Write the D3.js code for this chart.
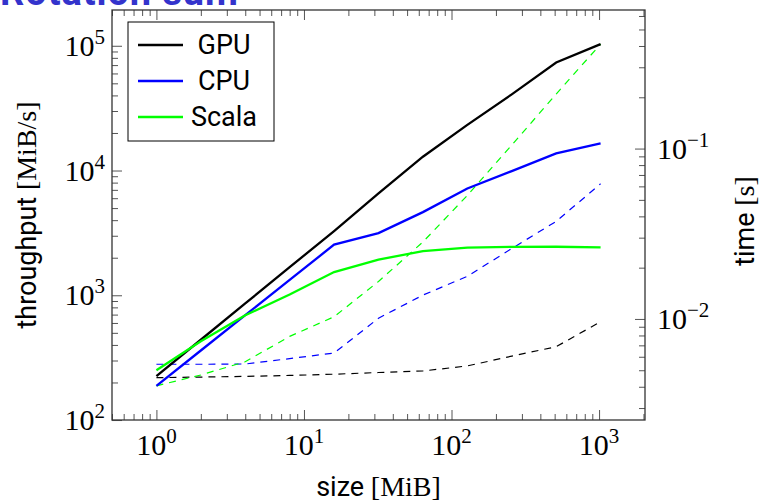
<!DOCTYPE html>
<html>
<head>
<meta charset="utf-8">
<script src="https://cdn.jsdelivr.net/npm/d3@7"></script>
<style>
  body { margin: 0; background: #fff; }
  svg { display: block; }
  .tick line { stroke: #555; stroke-width: 1; }
</style>
</head>
<body>
<svg id="chart" width="765" height="502"></svg>
<script>
// transfer sizes in MiB
const sizes = [1, 2, 4, 8, 16, 32, 64, 128, 256, 512, 1024];

// throughput [MiB/s], solid lines, left axis
const gpuThroughput = [225, 440, 860, 1680, 3270, 6550, 12900, 23200, 40800, 73500, 103000];
const cpuThroughput = [188, 361, 693, 1330, 2545, 3150, 4640, 7180, 9890, 13700, 16500];
const scalaThroughput = [251, 428, 692, 1013, 1535, 1930, 2260, 2410, 2443, 2450, 2420];

// time [s], dashed lines, right axis
const gpuTime = [0.00452, 0.00456, 0.0046, 0.00466, 0.00474, 0.00485, 0.00495, 0.0053, 0.00605, 0.00687, 0.00964];
const cpuTime = [0.00542, 0.00542, 0.00544, 0.00585, 0.00631, 0.0101, 0.0138, 0.0178, 0.0259, 0.0374, 0.0621];
const scalaTime = [0.00405, 0.00469, 0.00561, 0.0079, 0.0103, 0.0166, 0.0283, 0.0531, 0.1048, 0.209, 0.41];

const seriesNames = ["GPU", "CPU", "Scala"];
const seriesColors = ["#000000", "#0000ff", "#00ff00"];

const svg = d3.select("#chart");
const plotLeft = 112, plotRight = 645, plotTop = 10, plotBottom = 420;
const serif = "'Liberation Serif', 'DejaVu Serif', serif";
const sans = "Roboto, 'Noto Sans', sans-serif";

// pgfplots style: enlarge log limits by 10% on each side
function enlarge(ext) {
    let la = Math.log10(ext[0]), lb = Math.log10(ext[1]);
    let pad = (lb - la) * 0.1;
    return [Math.pow(10, la - pad), Math.pow(10, lb + pad)];
}

function logTicks(domain) {
    let major = [], minor = [];
    for (let k = -5; k <= 7; k++) {
        for (let m = 1; m < 10; m++) {
            let v = m * Math.pow(10, k);
            if (v >= domain[0] * 0.995 && v <= domain[1] * 1.005) (m === 1 ? major : minor).push(v);
        }
    }
    return { major, minor };
}

let x = d3.scaleLog().domain(enlarge(d3.extent(sizes))).range([plotLeft, plotRight]);
let yL = d3.scaleLog()
    .domain(enlarge(d3.extent(gpuThroughput.concat(cpuThroughput, scalaThroughput))))
    .range([plotBottom, plotTop]);
let yR = d3.scaleLog()
    .domain(enlarge(d3.extent(gpuTime.concat(cpuTime, scalaTime))))
    .range([plotBottom, plotTop]);

let xt = logTicks(x.domain());
let ylt = logTicks(yL.domain());
let yrt = logTicks(yR.domain());

// ticks, pointing inwards
function drawAxis(axisFn, scale, ticks, transform) {
    [[ticks.major, 10], [ticks.minor, 6]].forEach(([vals, len]) => {
        svg.append("g")
            .attr("transform", transform)
            .call(axisFn(scale).tickValues(vals).tickSizeInner(-len).tickSizeOuter(0).tickFormat(""))
            .call(g => g.select(".domain").remove());
    });
}
drawAxis(d3.axisBottom, x, xt, `translate(0,${plotBottom})`);
drawAxis(d3.axisTop, x, xt, `translate(0,${plotTop})`);
drawAxis(d3.axisLeft, yL, ylt, `translate(${plotLeft},0)`);
drawAxis(d3.axisRight, yR, yrt, `translate(${plotRight},0)`);

// 10^k labels
function powLabels(vals, px, py, anchor) {
    svg.append("g").selectAll("text").data(vals).join("text")
        .attr("x", px).attr("y", py)
        .attr("text-anchor", anchor)
        .attr("font-family", serif).attr("font-size", 30).attr("fill", "#000")
        .each(function(d) {
            let e = Math.round(Math.log10(d));
            let t = d3.select(this);
            t.append("tspan").text("10");
            t.append("tspan").attr("dy", -12).attr("font-size", 21).text(String(e).replace("-", "\u2212"));
        });
}
powLabels(xt.major, d => x(d), plotBottom + 35, "middle");
powLabels(ylt.major, plotLeft - 7, d => yL(d) + 10, "end");
powLabels(yrt.major, plotRight + 12, d => yR(d) + 10, "start");

// frame
svg.append("rect")
    .attr("x", plotLeft).attr("y", plotTop)
    .attr("width", plotRight - plotLeft).attr("height", plotBottom - plotTop)
    .attr("fill", "none").attr("stroke", "#333").attr("stroke-width", 1.3);

// lines
let throughputs = [gpuThroughput, cpuThroughput, scalaThroughput];
let times = [gpuTime, cpuTime, scalaTime];
let lineL = d3.line().x((d, i) => x(sizes[i])).y(d => yL(d));
let lineR = d3.line().x((d, i) => x(sizes[i])).y(d => yR(d));

times.forEach((s, i) => {
    svg.append("path").datum(s)
        .attr("d", lineR)
        .attr("fill", "none")
        .attr("stroke", seriesColors[i])
        .attr("stroke-width", 1.2)
        .attr("stroke-dasharray", "7,6");
});
throughputs.forEach((s, i) => {
    svg.append("path").datum(s)
        .attr("d", lineL)
        .attr("fill", "none")
        .attr("stroke", seriesColors[i])
        .attr("stroke-width", 2.3);
});

// legend
let legend = svg.append("g");
legend.append("rect")
    .attr("x", 128).attr("y", 22).attr("width", 146).attr("height", 119)
    .attr("fill", "#fff").attr("stroke", "#000").attr("stroke-width", 1);
seriesNames.forEach((name, i) => {
    let ly = 45 + i * 36;
    legend.append("line")
        .attr("x1", 138).attr("x2", 183).attr("y1", ly).attr("y2", ly)
        .attr("stroke", seriesColors[i]).attr("stroke-width", 2.3);
    legend.append("text")
        .attr("x", 224).attr("y", ly + 9)
        .attr("text-anchor", "middle")
        .attr("font-family", sans).attr("font-size", 27)
        .text(name);
});

// axis titles
let xLabel = svg.append("text")
    .attr("x", (plotLeft + plotRight) / 2).attr("y", 496)
    .attr("text-anchor", "middle").attr("font-size", 27);
xLabel.append("tspan").attr("font-family", sans).text("size ");
xLabel.append("tspan").attr("font-family", serif).attr("font-size", 28).text("[MiB]");

let yLabel = svg.append("text")
    .attr("transform", `translate(36,${(plotTop + plotBottom) / 2}) rotate(-90)`)
    .attr("text-anchor", "middle").attr("font-size", 27);
yLabel.append("tspan").attr("font-family", sans).text("throughput ");
yLabel.append("tspan").attr("font-family", serif).attr("font-size", 28).text("[MiB/s]");

let rLabel = svg.append("text")
    .attr("transform", `translate(754,${(plotTop + plotBottom) / 2 + 6}) rotate(-90)`)
    .attr("text-anchor", "middle").attr("font-size", 27);
rLabel.append("tspan").attr("font-family", sans).text("time ");
rLabel.append("tspan").attr("font-family", serif).attr("font-size", 28).text("[s]");

// title, cut off by the top edge as in the original
svg.append("text")
    .attr("x", 0).attr("y", 5)
    .attr("font-family", sans).attr("font-weight", "bold").attr("font-size", 38)
    .attr("fill", "#3333cc")
    .attr("textLength", 238)
    .text("Rotation sum");
</script>
</body>
</html>
